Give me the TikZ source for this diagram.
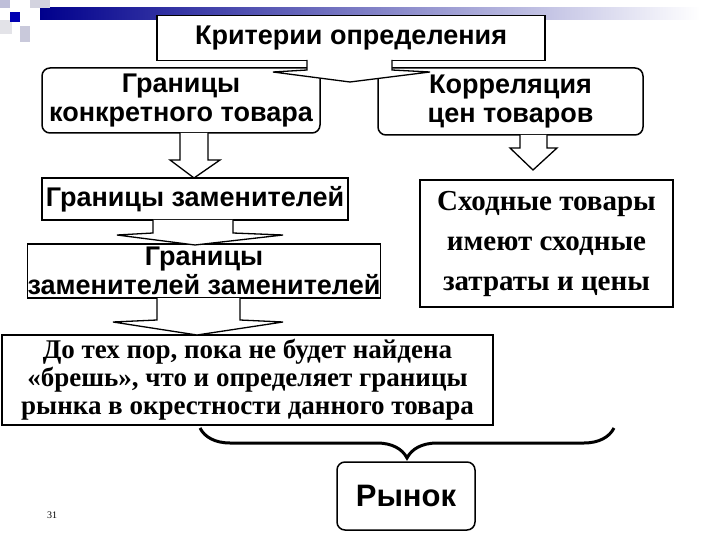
\documentclass[tikz,border=0pt]{standalone}
\usepackage{fontspec}
\setmainfont{Liberation Serif}
\setsansfont{Liberation Sans}
\usetikzlibrary{decorations.pathreplacing}
\begin{document}
\begin{tikzpicture}[x=1pt,y=-1pt,
  sbox/.style={draw,line width=1.5pt,fill=white,inner sep=0pt,font=\sffamily\bfseries\fontsize{27}{29}\selectfont,align=center},
  rbox/.style={sbox,rounded corners=8pt},
  tbox/.style={draw,line width=1.5pt,fill=white,inner sep=0pt,font=\rmfamily\bfseries\fontsize{29}{40}\selectfont,align=center},
  arr/.style={draw,line width=1.3pt,fill=white,line join=miter}]
\useasboundingbox (0,0) rectangle (720,540);
\fill[white] (0,0) rectangle (720,540);
% decoration
\shade[left color=blue!55!black,right color=white] (40,8) rectangle (700,20);
\fill[blue!25!gray!40] (0,0) rectangle (10,8);
\fill[blue!15!gray!30] (30,0) rectangle (50,8);
\fill[blue!20!gray!35] (20,26) rectangle (30,42);
\fill[blue!10!gray!20] (0,20) rectangle (12,34);
\fill[blue!70!black] (10,12) rectangle (20,22);
% title
\node[sbox,minimum width=388pt,minimum height=45pt] (t) at (351,38) {Критерии определения};
\node[rbox,minimum width=278pt,minimum height=65pt] (a) at (181,100.5) {Границы\\конкретного товара};
\node[rbox,minimum width=265pt,minimum height=67pt] (b) at (510.5,101.5) {Корреляция\\цен товаров};
\path[arr] (307,60) -- (307,70) -- (273,72) -- (350,82) -- (430,72) -- (392,70) -- (392,60);
\node[sbox,minimum width=306pt,minimum height=42pt] (c) at (195,199) {Границы заменителей};
\node[tbox,minimum width=253pt,minimum height=127pt] (d) at (546.5,243.5) {Сходные товары\\имеют сходные\\затраты и цены};
\node[sbox,minimum width=348pt,minimum height=54pt] (e) at (204,271) {Границы\\заменителей заменителей};
\node[tbox,font=\rmfamily\bfseries\fontsize{27}{28}\selectfont,minimum width=491pt,minimum height=90pt] (f) at (247.5,380) {До тех пор, пока не будет найдена\\ «брешь», что и определяет границы\\рынка в окрестности данного товара};
\node[rbox,font=\sffamily\bfseries\fontsize{31}{32}\selectfont,minimum width=138pt,minimum height=68pt] (g) at (406,496) {Рынок};
% block arrows
\path[arr] (180,133) -- (180,160) -- (170,160) -- (194,178) -- (220,160) -- (208,160) -- (208,133);
\path[arr] (520,135) -- (520,148) -- (510,148) -- (533,170) -- (557,148) -- (547,148) -- (547,135);
\path[arr] (153,220) -- (153,233) -- (117,235) -- (195,245) -- (283,235) -- (233,233) -- (233,220);
\path[arr] (157,298) -- (157,320) -- (113,322) -- (197,335) -- (283,322) -- (240,320) -- (240,298);
% brace
\draw[line width=3pt,decorate,decoration={brace,amplitude=30pt,mirror}] (200,428) -- (614,428);
\node[font=\rmfamily\fontsize{10}{12}\selectfont] (n) at (52,515) {31};
\end{tikzpicture}
\end{document}
